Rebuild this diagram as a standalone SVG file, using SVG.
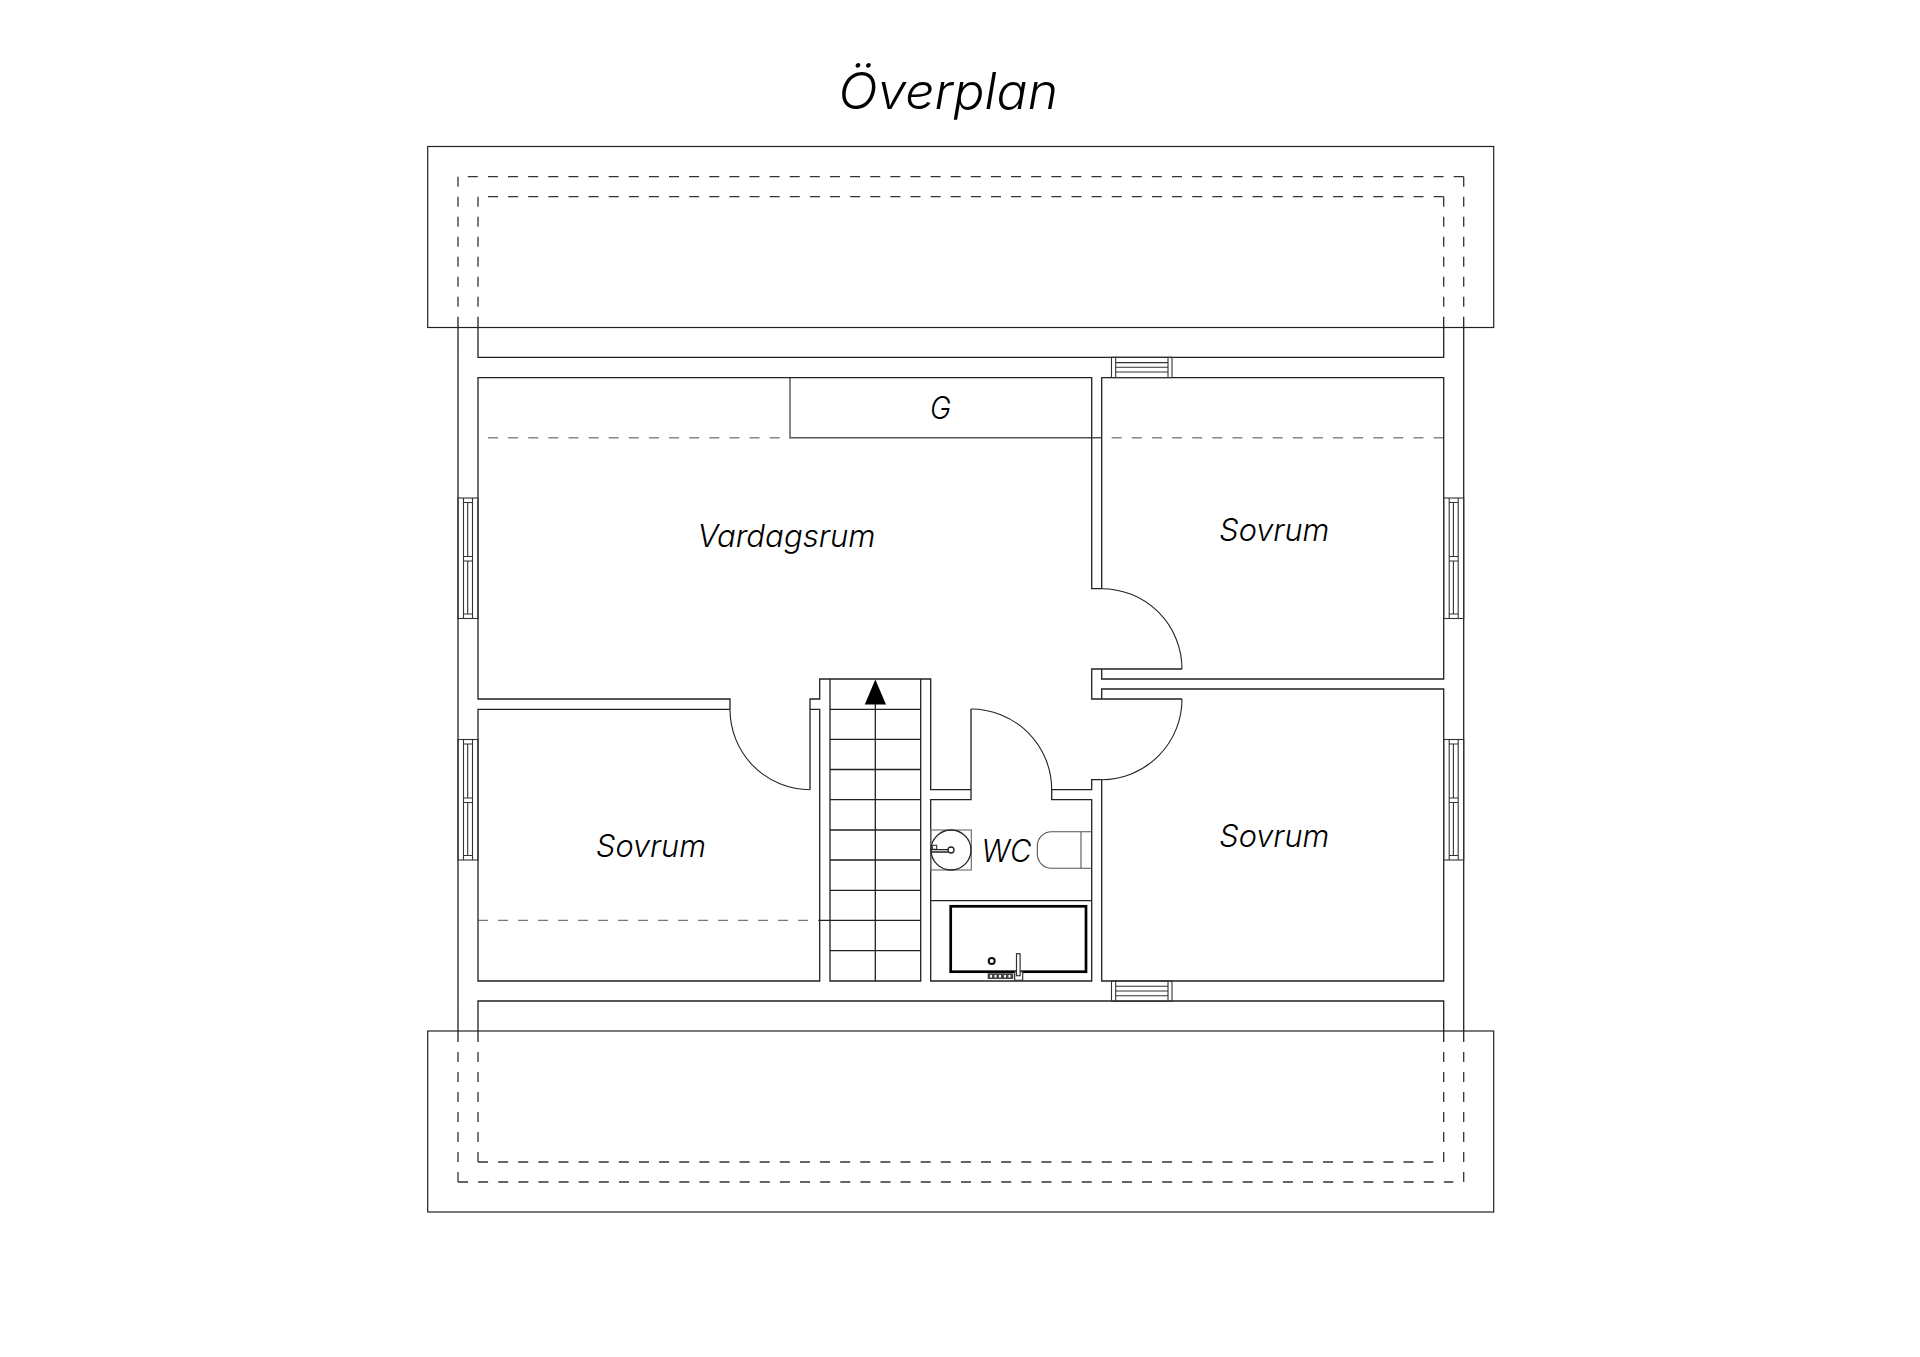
<svg xmlns="http://www.w3.org/2000/svg" width="1920" height="1357" viewBox="0 0 1920 1357">
<style>
.w{fill:none;stroke:#222;stroke-width:1.3}
.t{fill:none;stroke:#222;stroke-width:1.2}
.g{fill:none;stroke:#333;stroke-width:1.1}
.a{fill:none;stroke:#222;stroke-width:1.1}
.dh{fill:none;stroke:#333;stroke-width:1.3;stroke-dasharray:10 10.12}
.dv{fill:none;stroke:#333;stroke-width:1.3;stroke-dasharray:10 10}
.dg{fill:none;stroke:#888;stroke-width:1.5;stroke-dasharray:10 10.12}
.l{font-family:"Inter","Lato",sans-serif;font-style:italic;font-weight:300;fill:#000;font-size:31px}
</style>
<defs>
<g id="winV" class="g">
<rect x="0" y="0" width="20" height="120.5"/>
<path d="M5.5 0V120.5M9.7 4.5V58.5M9.7 63V116M14.5 0V120.5M5.5 4.5H14.5M5.5 58.5H14.5M5.5 63H14.5M5.5 116H14.5"/>
</g>
<g id="winH" class="g">
<rect x="0" y="0" width="60.5" height="20.3"/>
<path d="M4.2 0V20.3M56.5 0V20.3M4.2 5.3H56.5M4.2 10H56.5M4.2 14.7H56.5"/>
</g>
</defs>
<rect width="1920" height="1357" fill="#fff"/>
<text id="title" class="l" x="838.5" y="109" style="font-size:50px" textLength="219.5" lengthAdjust="spacingAndGlyphs">Överplan</text>
<g id="roof-top"><rect class="t" x="427.7" y="146.5" width="1066" height="181"/></g>
<g id="roof-bottom"><rect class="t" x="427.7" y="1031" width="1066" height="181"/></g>
<g id="roof-dashes">
<path class="dh" d="M467.8 176.7H1463.7"/>
<path class="dh" d="M488 196.7H1443.7"/>
<path class="dh" d="M458 1182H1453.3"/>
<path class="dh" d="M478 1162H1433.3"/>
<path class="dv" d="M458 176.7V317M478 196.7V317M1443.7 196.7V317M1463.7 176.7V317"/>
<path class="dv" d="M458 1182V1041M478 1162V1041M1443.7 1162V1041M1463.7 1182V1041"/>
</g>
<g id="slope-lines">
<path class="dg" d="M488 437.7H790"/>
<path class="g" style="stroke:#555;stroke-width:1.4" d="M790 377.7V437.7H1101.7"/>
<path class="dg" d="M1111.7 437.7H1443.7"/>
<path class="dv" style="stroke:#555;stroke-width:1" d="M478 920.3H820"/>
</g>
<g id="walls">
<path class="w" d="M458 317V1041M1463.7 317V1041M478 317V357.3H1443.7V317M478 1041V1001H1443.7V1041"/>
</g>
<g id="vardagsrum">
<path class="w" d="M730 709.3V699H478V377.7H1091.7V588.7H1101.7"/>
<text class="l" x="697.5" y="547.3" textLength="178" lengthAdjust="spacingAndGlyphs">Vardagsrum</text>
</g>
<g id="garderob">
<text class="l" x="930" y="419.3" textLength="21" lengthAdjust="spacingAndGlyphs">G</text>
</g>
<g id="sovrum-1">
<path class="w" d="M1101.7 588.7V377.7H1443.7V679H1101.7V669"/>
<text class="l" x="1219.3" y="540.7" textLength="110" lengthAdjust="spacingAndGlyphs">Sovrum</text>
</g>
<g id="sovrum-2">
<path class="w" d="M1101.7 699V689H1443.7V981H1101.7V779.7"/>
<text class="l" x="1219.3" y="846.7" textLength="110" lengthAdjust="spacingAndGlyphs">Sovrum</text>
</g>
<g id="sovrum-3">
<path class="w" d="M730 709.3H478V981H819.7V709.3H810"/>
<text class="l" x="596" y="856.7" textLength="110" lengthAdjust="spacingAndGlyphs">Sovrum</text>
</g>
<g id="inner-walls">
<path class="w" d="M1182 669H1091.7V699H1182M1101.7 779.7H1091.7V789.7H1051.7V799.7H1091.7V981H930.7V799.7H971V709M971 789.7H930.7V679H819.7V699H810V789.7"/>
</g>
<g id="door-arcs">
<path class="a" d="M1101.7 588.7A80.3 80.3 0 0 1 1182 669M1182 699A80.7 80.7 0 0 1 1101.7 779.7M971 709A80.7 80.7 0 0 1 1051.7 789.7M730 709.3A80 80.4 0 0 0 810 789.7"/>
</g>
<g id="stairs">
<path class="w" d="M830 679V981H920.7V679M820 920.3H920.7"/>
<path class="w" d="M830 709.3H920.7M830 739.3H920.7M830 769.5H920.7M830 799.7H920.7M830 830H920.7M830 860H920.7M830 890.3H920.7M830 950.7H920.7M875.3 700V981"/>
<polygon points="875.3,679.5 886,704.5 864.8,704.5" fill="#000"/>
</g>
<g id="windows">
<use href="#winV" x="458" y="498"/>
<use href="#winV" x="458" y="739.5"/>
<use href="#winV" x="1443.7" y="498"/>
<use href="#winV" x="1443.7" y="739.5"/>
<use href="#winH" x="1111.5" y="357.3"/>
<use href="#winH" x="1111.5" y="981"/>
</g>
<g id="wc">
<path class="w" d="M930.7 900.7H1091.7"/>
<rect class="g" style="stroke:#666" x="930.7" y="830" width="40.6" height="40"/>
<circle class="w" cx="951" cy="850" r="20"/>
<circle class="w" cx="951" cy="850" r="3" style="fill:#fff"/>
<rect class="g" x="932.3" y="845.3" width="4.4" height="4"/>
<path class="w" d="M930.7 849.6H948M930.7 852H948"/>
<path class="g" style="stroke:#555" d="M1091.7 831.7H1051.5A14.2 14.2 0 0 0 1037.3 845.9V854.1A14.2 14.2 0 0 0 1051.5 868.3H1091.7M1081 831.7V868.3"/>
<text class="l" x="981.5" y="861.7" textLength="50" lengthAdjust="spacingAndGlyphs">WC</text>
</g>
<g id="bath">
<rect x="950.7" y="906.3" width="135.3" height="65.4" fill="none" stroke="#000" stroke-width="2.7"/>
<circle cx="991.7" cy="961" r="3" fill="#fff" stroke="#111" stroke-width="2"/>
<rect x="987.7" y="973.3" width="25.6" height="5.7" fill="#444"/>
<path d="M990 976.2h2M994.5 976.2h2M999 976.2h2M1004 976.2h2M1008.5 976.2h2" stroke="#fff" stroke-width="2.4" fill="none"/>
<rect x="1014.7" y="971.7" width="8" height="8.6" fill="#fff" stroke="#333" stroke-width="1.2"/>
<rect x="1016.5" y="953.7" width="3.6" height="22" fill="#fff" stroke="#333" stroke-width="1.2"/>
</g>
</svg>
